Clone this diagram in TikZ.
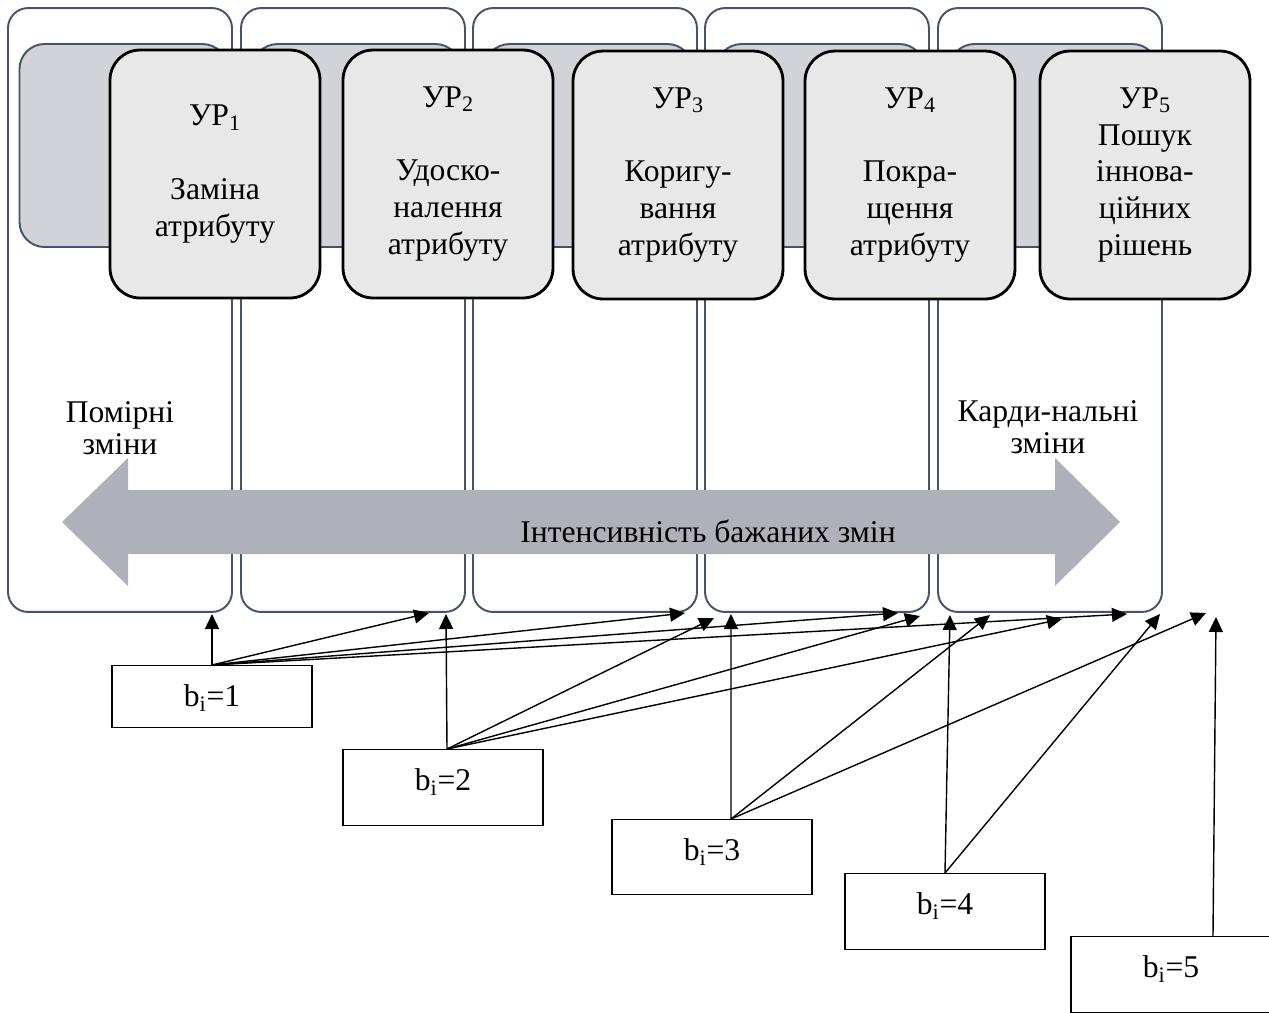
\documentclass[tikz,border=0pt]{standalone}
\usepackage{fontspec}
\setmainfont{Liberation Serif}
\usetikzlibrary{arrows.meta}
\definecolor{paneledge}{HTML}{44546A}
\definecolor{backfill}{HTML}{D1D3D8}
\definecolor{cardfill}{HTML}{E8E8E8}
\definecolor{scalefill}{HTML}{AEB1B7}
\tikzset{
    level diagram/.style = {x=0.02cm, y=-0.02cm,
                            >={Triangle[length=0.3cm, width=0.28cm]}},
    panel/.style         = {draw=paneledge, line width=1.1pt, fill=white,
                            rounded corners=0.4cm, inner sep=0pt,
                            minimum width=4.48cm, minimum height=12.08cm},
    backing/.style       = {draw=paneledge, line width=1.1pt, fill=backfill,
                            rounded corners=0.5cm, inner sep=0pt,
                            minimum width=4.16cm, minimum height=4.06cm},
    card/.style          = {draw, line width=1.6pt, fill=cardfill,
                            rounded corners=0.6cm, align=center,
                            minimum width=4.2cm, minimum height=4.96cm,
                            font=\fontsize{18}{21}\selectfont},
    sidelabel/.style     = {align=center, font=\fontsize{18}{18}\selectfont},
    bbox/.style          = {draw, line width=0.8pt, anchor=north,
                            inner sep=0pt, minimum width=4cm,
                            text height=0.82cm,
                            font=\fontsize{18}{21}\selectfont},
    link/.style          = {->, line width=0.8pt}
}

\begin{document}
\begin{tikzpicture}[level diagram]
\useasboundingbox (0,0) rectangle (1269,1012);

% ================= Level panels =================
\foreach \i/\x in {1/120, 2/353, 3/585, 4/817, 5/1050} {
    \node[panel] (pnl\i) at (\x, 310) {};
}
\foreach \i/\x in {1/120, 2/353, 3/585, 4/817, 5/1050} {
    \node[backing] (bg\i) at (\x+3.5, 145.5) {};
}

% ================= Level cards =================
\node[card] (card1) at (215, 174) {УР\textsubscript{1}\\[21pt]Заміна\\атрибуту};
\node[card] (card2) at (448, 174) {УР\textsubscript{2}\\[21pt]Удоско-\\налення\\атрибуту};
\node[card] (card3) at (678, 175) {УР\textsubscript{3}\\[21pt]Коригу-\\вання\\атрибуту};
\node[card] (card4) at (910, 175) {УР\textsubscript{4}\\[21pt]Покра-\\щення\\атрибуту};
\node[card] (card5) at (1145, 175) {УР\textsubscript{5}\\Пошук\\іннова-\\ційних\\рішень};

% ================= Intensity scale =================
\fill[scalefill] (62,522) -- (128,458) -- (128,490) -- (1055,490)
    -- (1055,458) -- (1120,522) -- (1055,586) -- (1055,554)
    -- (128,554) -- (128,586) -- cycle;
\node[font=\fontsize{18}{21}\selectfont] (scale) at (708, 531)
    {Інтенсивність бажаних змін};
\node[sidelabel] (mild) at (120, 428) {Помірні\\зміни};
\node[sidelabel] (radical) at (1048, 427) {Карди-нальні\\зміни};

% ================= Attribute values =================
\node[bbox, text depth=0.42cm] (b1) at (212, 665) {b\textsubscript{i}=1};
\node[bbox, text depth=0.70cm] (b2) at (443, 749) {b\textsubscript{i}=2};
\node[bbox, text depth=0.68cm] (b3) at (712, 819) {b\textsubscript{i}=3};
\node[bbox, text depth=0.70cm] (b4) at (945, 873) {b\textsubscript{i}=4};
\node[bbox, text depth=0.70cm] (b5) at (1171, 936) {b\textsubscript{i}=5};

% ================= Links to levels =================
\foreach \n/\x/\y in {11/212/614, 12/429/613, 13/685/613, 14/898/613,
                      15/1127/614, 22/446/614, 23/714/618, 24/920/616,
                      25/1062/619, 33/731/614, 34/990/615, 35/1206/613,
                      44/950/615, 45/1160/614, 55/1216/617} {
    \coordinate (tip\n) at (\x, \y);
}
\foreach \n in {11, 12, 13, 14, 15} {
    \draw[link] (b1.north) -- (tip\n);
}
\foreach \n in {22, 23, 24, 25} {
    \draw[link] ([xshift=0.08cm]b2.north) -- (tip\n);
}
\foreach \n in {33, 34, 35} {
    \draw[link] ([xshift=0.38cm]b3.north) -- (tip\n);
}
\foreach \n in {44, 45} {
    \draw[link] (b4.north) -- (tip\n);
}
\draw[link] ([xshift=0.84cm]b5.north) -- (tip55);

\end{tikzpicture}
\end{document}
